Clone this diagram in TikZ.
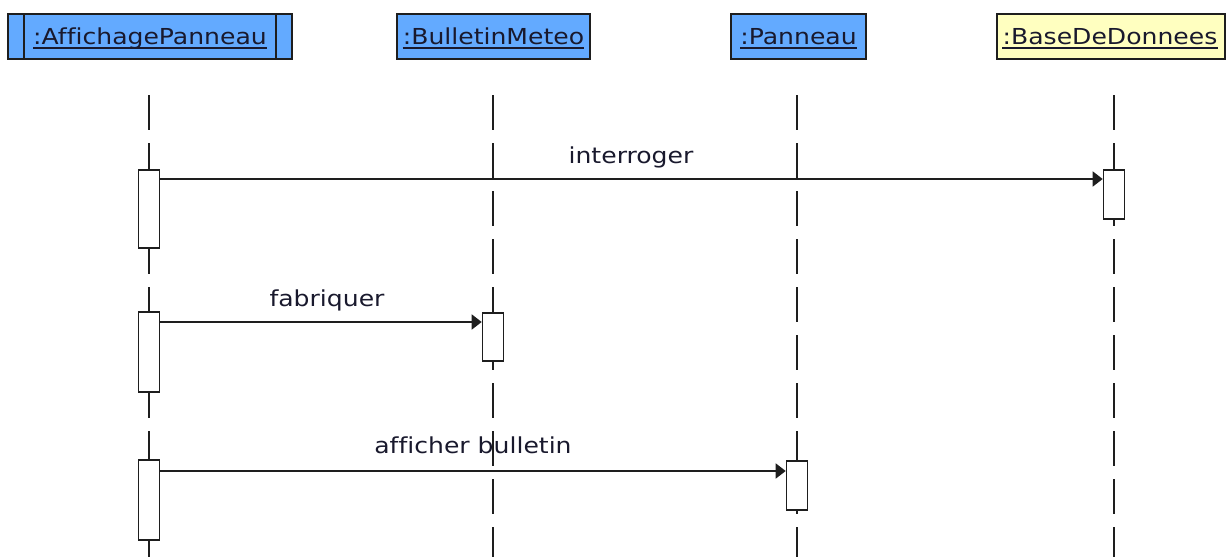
\documentclass[tikz,border=0pt]{standalone}
\usepackage{fontspec}
\setmainfont{DejaVu Sans}[FakeStretch=1.14, Ligatures=NoCommon]
\usetikzlibrary{arrows.meta}
\definecolor{objblue}{RGB}{99,170,255}
\definecolor{objyellow}{RGB}{255,255,192}
\definecolor{txt}{RGB}{25,25,45}
\definecolor{ln}{RGB}{30,30,30}
\tikzset{
  head/.style={draw=ln, line width=1.6pt, minimum height=45pt, inner sep=0pt, anchor=north},
  lbl/.style={font=\fontsize{22}{26}\selectfont, text=txt, inner sep=0pt, anchor=base},
  uline/.style={draw=txt, line width=1.3pt},
  life/.style={draw=ln, line width=1.6pt, dash pattern=on 35pt off 13pt},
  act/.style={draw=ln, fill=white, line width=1.6pt, minimum width=21pt, inner sep=0pt, anchor=north},
  msg/.style={draw=ln, line width=1.6pt, -{Triangle[length=10pt,width=15pt]}}
}
\begin{document}
\begin{tikzpicture}[x=1pt,y=-1pt]
\useasboundingbox (0,0) rectangle (1226,557);
% headers
\node[head, fill=objblue, minimum width=284pt] (hA) at (150,13) {};
\draw[draw=ln, line width=1.6pt] ([xshift=17pt]hA.north west) -- ([xshift=17pt]hA.south west);
\draw[draw=ln, line width=1.6pt] ([xshift=-17pt]hA.north east) -- ([xshift=-17pt]hA.south east);
\node[head, fill=objblue, minimum width=193pt] (hB) at (493.5,13) {};
\node[head, fill=objblue, minimum width=135pt] (hC) at (798.5,13) {};
\node[head, fill=objyellow, minimum width=228pt] (hD) at (1111,13) {};
\node[lbl] (tA) at (150,44) {:AffichagePanneau};
\node[lbl] (tB) at (493.5,44) {:BulletinMeteo};
\node[lbl] (tC) at (798.5,44) {:Panneau};
\node[lbl] (tD) at (1110,44) {:BaseDeDonnees};
\foreach \t in {tA,tB,tC,tD}
  \draw[uline] ([yshift=-4pt]\t.base west) -- ([yshift=-4pt]\t.base east);
% message labels
\node[lbl] (m1) at (631,163) {interroger};
\node[lbl] (m2) at (327,306) {fabriquer};
\node[lbl] (m3) at (473,453) {afficher bulletin};
% lifelines
\coordinate (lA) at (149,95);  \coordinate (eA) at (149,557);
\coordinate (lB) at (493,95);  \coordinate (eB) at (493,557);
\coordinate (lC) at (797,95);  \coordinate (eC) at (797,557);
\coordinate (lD) at (1114,95); \coordinate (eD) at (1114,557);
\draw[life] (lA) -- (eA);
\draw[life] (lB) -- (eB);
\draw[life] (lC) -- (eC);
\draw[life] (lD) -- (eD);
% activations
\node[act, minimum height=78pt] (a1) at (149,169) {};
\node[act, minimum height=80pt] (a2) at (149,311) {};
\node[act, minimum height=80pt] (a3) at (149,459) {};
\node[act, minimum height=49pt] (aD) at (1114,169) {};
\node[act, minimum height=48pt] (aB) at (493,312) {};
\node[act, minimum height=49pt] (aC) at (797,460) {};
% messages
\draw[msg] ([yshift=-10pt]a1.north east) -- ([yshift=-10pt]a1.north east -| aD.west);
\draw[msg] ([yshift=-11pt]a2.north east) -- ([yshift=-11pt]a2.north east -| aB.west);
\draw[msg] ([yshift=-12pt]a3.north east) -- ([yshift=-12pt]a3.north east -| aC.west);
\end{tikzpicture}
\end{document}
